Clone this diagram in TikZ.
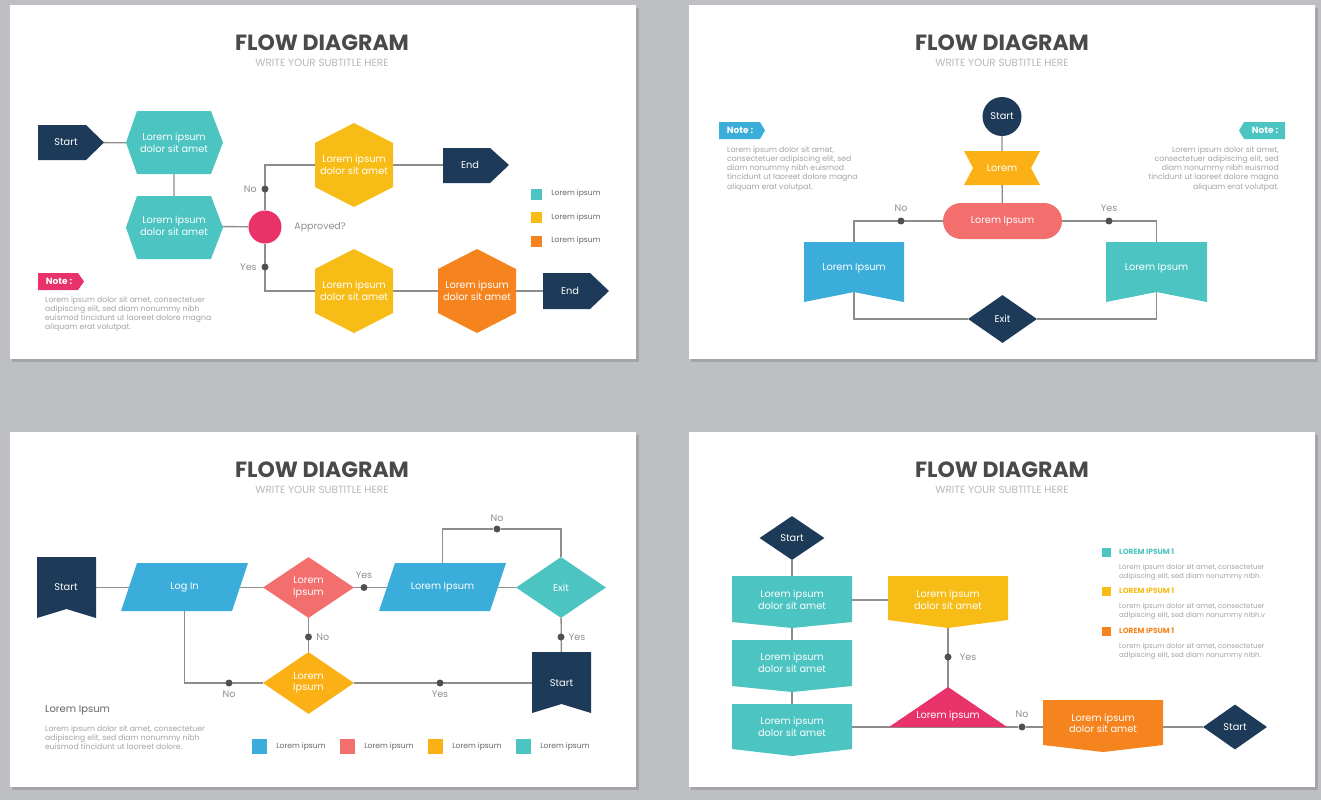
\documentclass[tikz,border=0pt]{standalone}
\usepackage{fontspec}
\setmainfont{Poppins}
\usetikzlibrary{positioning,shapes.geometric}
\pgfdeclarelayer{bg}\pgfdeclarelayer{edges}\pgfdeclarelayer{fills}
\pgfsetlayers{bg,edges,fills,main}
\definecolor{cNavy}{HTML}{1D3A58}
\definecolor{cTeal}{HTML}{4BC4C2}
\definecolor{cYel}{HTML}{F8BC16}
\definecolor{cAmb}{HTML}{FBB116}
\definecolor{cOra}{HTML}{F5841F}
\definecolor{cPink}{HTML}{E9326A}
\definecolor{cCoral}{HTML}{F36F6E}
\definecolor{cBlue}{HTML}{3BADDA}
\definecolor{cLine}{HTML}{8D8D8D}
\definecolor{cDot}{HTML}{505050}
\definecolor{cLbl}{HTML}{8F8F8F}
\definecolor{cBody}{HTML}{A3A3A3}
\definecolor{cTitle}{HTML}{4A4A4A}
\definecolor{cSub}{HTML}{B8B8B8}
\definecolor{cBack}{HTML}{BEBFC3}
\definecolor{cShade}{HTML}{A4A5A9}
\begin{document}
\begin{tikzpicture}[x=1pt,y=-1pt,
  ttl/.style={text=cTitle,inner sep=0pt,font=\fontsize{22}{24}\selectfont\bfseries},
  sub/.style={text=cSub,inner sep=0pt,font=\fontsize{10.4}{12}\selectfont},
  txt/.style={text=white,align=center,inner sep=1pt,font=\fontsize{9.8}{11.5}\selectfont},
  dia/.style={txt,diamond,inner sep=0pt},
  lbl/.style={text=cLbl,inner sep=0pt,font=\fontsize{9.5}{11}\selectfont},
  jdot/.style={circle,fill=cDot,inner sep=0pt,minimum size=7pt},
  conn/.style={draw=cLine,line width=1.4pt},
  bodytxt/.style={text=cBody,inner sep=0pt,align=left,font=\fontsize{7.7}{9.3}\selectfont},
  notetag/.style={text=white,inner sep=0pt,font=\fontsize{9}{10}\selectfont\bfseries},
  legsq/.style={rectangle,inner sep=0pt,minimum size=11pt},
  legtxt/.style={text=cTitle!85,inner sep=0pt,font=\fontsize{7.6}{9}\selectfont}]
\useasboundingbox (0,0) rectangle (1321,800);
\begin{pgfonlayer}{bg}
\fill[cBack] (0,0) rectangle (1321,800);
\fill[cShade] (12,8) rectangle (639,362); \fill[white] (10,5) rectangle (636,359);
\fill[cShade] (691,8) rectangle (1318,362); \fill[white] (689,5) rectangle (1315,359);
\fill[cShade] (12,435) rectangle (639,790); \fill[white] (10,432) rectangle (636,787);
\fill[cShade] (691,435) rectangle (1318,790); \fill[white] (689,432) rectangle (1315,787);
\end{pgfonlayer}

% slide 1
\node[ttl] (t1) at (322,43) {FLOW DIAGRAM};
\node[sub] (st1) at (322,63) {WRITE YOUR SUBTITLE HERE};
\begin{pgfonlayer}{fills}
\fill[cNavy] (38,125) -- (86,125) -- (104,142.5) -- (86,160) -- (38,160) -- cycle;
\fill[cTeal] (126,142.5) -- (137,111) -- (211,111) -- (223,142.5) -- (211,174) -- (137,174) -- cycle;
\fill[cTeal] (126,227.5) -- (137,196) -- (211,196) -- (223,227.5) -- (211,259) -- (137,259) -- cycle;
\fill[cYel] (354,123) -- (393,143) -- (393,187) -- (354,207) -- (315,187) -- (315,143) -- cycle;
\fill[cYel] (354,249) -- (393,269) -- (393,313) -- (354,333) -- (315,313) -- (315,269) -- cycle;
\fill[cOra] (477,249) -- (516,269) -- (516,313) -- (477,333) -- (438,313) -- (438,269) -- cycle;
\fill[cNavy] (443,148) -- (490,148) -- (509,165) -- (490,183) -- (443,183) -- cycle;
\fill[cNavy] (543,273) -- (590,273) -- (609,291) -- (590,309) -- (543,309) -- cycle;
\fill[cPink] (38,273) -- (78,273) -- (84,281.5) -- (78,290) -- (38,290) -- cycle;
\end{pgfonlayer}
\node[txt] (s1start) at (66,142.5) {Start};
\node[txt] (h1) at (174,143) {Lorem ipsum\\dolor sit amet};
\node[txt] (h2) at (174,226) {Lorem ipsum\\dolor sit amet};
\node[circle,fill=cPink,minimum size=33pt,inner sep=0pt] (appr) at (265,227) {};
\node[lbl,right=12.5pt of appr] (apq) {Approved?};
\node[txt] (y1) at (354,165) {Lorem ipsum\\dolor sit amet};
\node[txt] (end1) at (470,165) {End};
\node[txt] (y2) at (354,291) {Lorem ipsum\\dolor sit amet};
\node[txt] (o1) at (477,291) {Lorem ipsum\\dolor sit amet};
\node[txt] (end2) at (570,291) {End};
\node[jdot] (d1) at (265,189) {}; \node[lbl,left=4.5pt of d1] (d1l) {No};
\node[jdot] (d2) at (265,267) {}; \node[lbl,left=4.5pt of d2] (d2l) {Yes};
\node[legsq,fill=cTeal] (l1) at (536.5,194) {}; \node[legtxt,right=9pt of l1] (l1t) {Lorem ipsum};
\node[legsq,fill=cYel] (l2) at (536.5,217.5) {}; \node[legtxt,right=9pt of l2] (l2t) {Lorem ipsum};
\node[legsq,fill=cOra] (l3) at (536.5,241) {}; \node[legtxt,right=9pt of l3] (l3t) {Lorem ipsum};
\node[notetag] (n1) at (59,281.5) {Note :};
\node[bodytxt,anchor=north west] (nb1) at (45,296) {Lorem ipsum dolor sit amet, consectetuer\\adipiscing elit, sed diam nonummy nibh\\euismod tincidunt ut laoreet dolore magna\\aliquam erat volutpat.};
\begin{pgfonlayer}{edges}
\draw[conn] (s1start) -- (h1) -- (h2) -- (appr);
\draw[conn] (appr) |- (y1) -- (end1);
\draw[conn] (appr) |- (y2) -- (o1) -- (end2);
\end{pgfonlayer}

% slide 2
\node[ttl] (t2) at (1002,43) {FLOW DIAGRAM};
\node[sub] (st2) at (1002,63) {WRITE YOUR SUBTITLE HERE};
\begin{pgfonlayer}{fills}
\fill[cAmb] (964,151) -- (1040,151) -- (1031,168) -- (1040,185) -- (964,185) -- (973,168) -- cycle;
\fill[cBlue] (804,242) -- (904,242) -- (904,302) -- (854,292) -- (804,302) -- cycle;
\fill[cTeal] (1106,242) -- (1207,242) -- (1207,302) -- (1156.5,292) -- (1106,302) -- cycle;
\fill[cBlue] (719,122) -- (760,122) -- (765,130.5) -- (760,139) -- (719,139) -- cycle;
\fill[cTeal] (1239,130.5) -- (1244,122) -- (1285,122) -- (1285,139) -- (1244,139) -- cycle;
\end{pgfonlayer}
\node[txt,circle,fill=cNavy,minimum size=39pt,inner sep=0pt] (s2start) at (1002,116.5) {Start};
\node[txt] (rib) at (1002,168) {Lorem};
\node[txt,fill=cCoral,rounded corners=18pt,minimum width=119pt,minimum height=36pt] (pill) at (1002.5,221) {Lorem Ipsum};
\node[txt] (bl) at (854,268) {Lorem Ipsum};
\node[txt] (br) at (1156.5,268) {Lorem Ipsum};
\node[dia,fill=cNavy,minimum width=69pt,minimum height=48pt] (ex2) at (1002.5,319) {Exit};
\node[jdot] (dn2) at (901,221) {}; \node[lbl,above=6pt of dn2] (dn2l) {No};
\node[jdot] (dy2) at (1109,221) {}; \node[lbl,above=6pt of dy2] (dy2l) {Yes};
\node[notetag] (n2a) at (740,130.5) {Note :};
\node[notetag] (n2b) at (1265,130.5) {Note :};
\node[bodytxt,anchor=north west] (nb2a) at (727,146) {Lorem ipsum dolor sit amet,\\consectetuer adipiscing elit, sed\\diam nonummy nibh euismod\\tincidunt ut laoreet dolore magna\\aliquam erat volutpat.};
\node[bodytxt,anchor=north east,align=right] (nb2b) at (1279,146) {Lorem ipsum dolor sit amet,\\consectetuer adipiscing elit, sed\\diam nonummy nibh euismod\\tincidunt ut laoreet dolore magna\\aliquam erat volutpat.};
\begin{pgfonlayer}{edges}
\draw[conn] (s2start) -- (rib) -- (pill);
\draw[conn] (pill) -| (bl); \draw[conn] (pill) -| (br);
\draw[conn] (bl) |- (ex2); \draw[conn] (br) |- (ex2);
\end{pgfonlayer}

% slide 3
\node[ttl] (t3) at (322,470) {FLOW DIAGRAM};
\node[sub] (st3) at (322,490) {WRITE YOUR SUBTITLE HERE};
\begin{pgfonlayer}{fills}
\fill[cNavy] (37,557) -- (96,557) -- (96,618) -- (66.5,609) -- (37,618) -- cycle;
\fill[cBlue] (137,563) -- (248,563) -- (232,611) -- (121,611) -- cycle;
\fill[cBlue] (395,563) -- (506,563) -- (490,611) -- (379,611) -- cycle;
\fill[cNavy] (532,652) -- (591,652) -- (591,713) -- (561.5,704) -- (532,713) -- cycle;
\end{pgfonlayer}
\node[txt] (s3start) at (66,587.5) {Start};
\node[txt] (login) at (184.5,587.5) {Log In};
\node[dia,fill=cCoral,minimum width=91pt,minimum height=61pt] (rd) at (308.5,587.5) {Lorem\\Ipsum};
\node[txt] (lp) at (442.5,587.5) {Lorem Ipsum};
\node[dia,fill=cTeal,minimum width=90pt,minimum height=61pt] (ex3) at (561,587.5) {Exit};
\node[txt] (s3end) at (561.5,683) {Start};
\node[dia,fill=cAmb,minimum width=91pt,minimum height=62pt] (yd) at (308.5,683) {Lorem\\Ipsum};
\node[jdot] (dy3a) at (364,587.5) {}; \node[lbl,above=5pt of dy3a] (dy3al) {Yes};
\node[jdot] (dn3a) at (308.5,637) {}; \node[lbl,right=4pt of dn3a] (dn3al) {No};
\node[jdot] (dn3b) at (497,529) {}; \node[lbl,above=4pt of dn3b] (dn3bl) {No};
\node[jdot] (dy3b) at (561,637) {}; \node[lbl,right=4pt of dy3b] (dy3bl) {Yes};
\node[jdot] (dn3c) at (229,683) {}; \node[lbl,below=4pt of dn3c] (dn3cl) {No};
\node[jdot] (dy3c) at (440,683) {}; \node[lbl,below=4pt of dy3c] (dy3cl) {Yes};
\node[text=cTitle!85,anchor=west,inner sep=0pt,font=\fontsize{10}{12}\selectfont] (hd3) at (45,710) {Lorem Ipsum};
\node[bodytxt,anchor=north west] (nb3) at (45,725) {Lorem ipsum dolor sit amet, consectetuer\\adipiscing elit, sed diam nonummy nibh\\euismod tincidunt ut laoreet dolore.};
\node[legsq,minimum size=15pt,fill=cBlue] (m1) at (259.5,746.5) {}; \node[legtxt,right=9pt of m1] (m1t) {Lorem ipsum};
\node[legsq,minimum size=15pt,fill=cCoral] (m2) at (347.5,746.5) {}; \node[legtxt,right=9pt of m2] (m2t) {Lorem ipsum};
\node[legsq,minimum size=15pt,fill=cAmb] (m3) at (435.5,746.5) {}; \node[legtxt,right=9pt of m3] (m3t) {Lorem ipsum};
\node[legsq,minimum size=15pt,fill=cTeal] (m4) at (523.5,746.5) {}; \node[legtxt,right=9pt of m4] (m4t) {Lorem ipsum};
\begin{pgfonlayer}{edges}
\draw[conn] (s3start) -- (login) -- (rd) -- (lp) -- (ex3);
\draw[conn] (rd) -- (yd) -- (s3end);
\draw[conn] (ex3) -- (s3end);
\draw[conn] (login) |- (yd);
\draw[conn] (lp) |- (dn3b) -| (ex3);
\end{pgfonlayer}

% slide 4
\node[ttl] (t4) at (1002,470) {FLOW DIAGRAM};
\node[sub] (st4) at (1002,490) {WRITE YOUR SUBTITLE HERE};
\begin{pgfonlayer}{fills}
\fill[cTeal] (732,576) -- (852,576) -- (852,622) -- (792,628) -- (732,622) -- cycle;
\fill[cTeal] (732,640) -- (852,640) -- (852,686) -- (792,692) -- (732,686) -- cycle;
\fill[cTeal] (732,704) -- (852,704) -- (852,749) -- (792,756) -- (732,749) -- cycle;
\fill[cYel] (888,576) -- (1008,576) -- (1008,620) -- (948,628) -- (888,620) -- cycle;
\fill[cPink] (948,687) -- (1007,727) -- (889,727) -- cycle;
\fill[cOra] (1043,700) -- (1163,700) -- (1163,745) -- (1103,752) -- (1043,745) -- cycle;
\end{pgfonlayer}
\node[dia,fill=cNavy,minimum width=65pt,minimum height=44pt] (s4start) at (792,538) {Start};
\node[txt] (b1) at (792,600) {Lorem ipsum\\dolor sit amet};
\node[txt] (b2) at (792,663) {Lorem ipsum\\dolor sit amet};
\node[txt] (b3) at (792,727) {Lorem ipsum\\dolor sit amet};
\node[txt] (yb) at (948,600) {Lorem ipsum\\dolor sit amet};
\node[txt] (tri) at (948,716.5) {Lorem ipsum};
\node[txt] (ob) at (1103,723.5) {Lorem ipsum\\dolor sit amet};
\node[dia,fill=cNavy,minimum width=64pt,minimum height=45pt] (s4end) at (1235,727) {Start};
\node[jdot] (dy4) at (948,657) {}; \node[lbl,right=8pt of dy4] (dy4l) {Yes};
\node[jdot] (dn4) at (1022,727) {}; \node[lbl,above=6pt of dn4] (dn4l) {No};
\node[legsq,minimum size=9pt,fill=cTeal] (k1) at (1106.5,552) {};
\node[legsq,minimum size=9pt,fill=cYel] (k2) at (1106.5,591) {};
\node[legsq,minimum size=9pt,fill=cOra] (k3) at (1106.5,631) {};
\node[text=cTeal,anchor=west,inner sep=0pt,font=\fontsize{7.5}{9}\selectfont\bfseries] (k1t) at (1119,552) {LOREM IPSUM 1};
\node[text=cYel,anchor=west,inner sep=0pt,font=\fontsize{7.5}{9}\selectfont\bfseries] (k2t) at (1119,591) {LOREM IPSUM 1};
\node[text=cOra,anchor=west,inner sep=0pt,font=\fontsize{7.5}{9}\selectfont\bfseries] (k3t) at (1119,631) {LOREM IPSUM 1};
\node[bodytxt,anchor=north west,font=\fontsize{7}{8.6}\selectfont] (k1b) at (1119,564) {Lorem ipsum dolor sit amet, consectetuer\\adipiscing elit, sed diam nonummy nibh.};
\node[bodytxt,anchor=north west,font=\fontsize{7}{8.6}\selectfont] (k2b) at (1119,603) {Lorem ipsum dolor sit amet, consectetuer\\adipiscing elit, sed diam nonummy nibh.v};
\node[bodytxt,anchor=north west,font=\fontsize{7}{8.6}\selectfont] (k3b) at (1119,643) {Lorem ipsum dolor sit amet, consectetuer\\adipiscing elit, sed diam nonummy nibh.};
\begin{pgfonlayer}{edges}
\draw[conn] (s4start) -- (b1) -- (b2) -- (b3);
\draw[conn] (b1) -- (yb) -- (tri);
\draw[conn] (b3) -- (dn4) -- (dn4 -| ob.west);
\draw[conn] (ob.east |- dn4) -- (s4end);
\end{pgfonlayer}
\end{tikzpicture}
\end{document}
